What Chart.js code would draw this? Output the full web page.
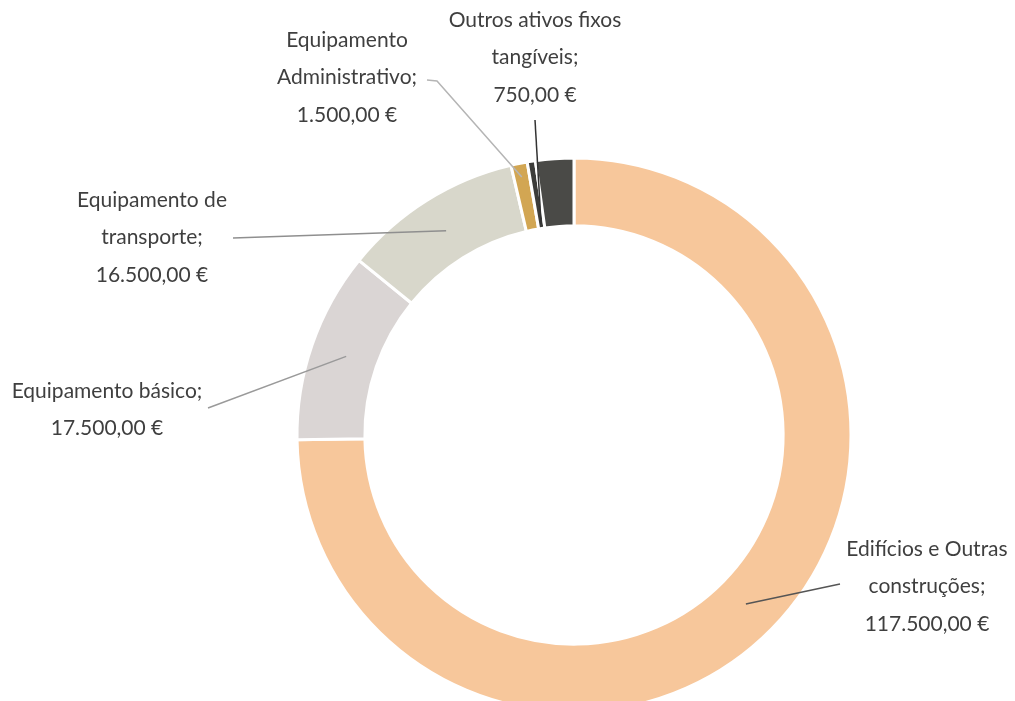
<!DOCTYPE html>
<html>
<head>
<meta charset="utf-8">
<script src="https://cdn.jsdelivr.net/npm/chart.js@4.4.0/dist/chart.umd.min.js"></script>
<style>
    html, body { margin: 0; padding: 0; background: #fff; overflow: hidden; }
    #wrap { position: absolute; left: 0; top: 0; width: 1015px; height: 870px; }
</style>
</head>
<body>
<div id="wrap"><canvas id="assetsChart" width="1015" height="870"></canvas></div>
<script>
// Chart data
const categories = [
    'Edifícios e Outras construções',
    'Equipamento básico',
    'Equipamento de transporte',
    'Equipamento Administrativo',
    'Outros ativos fixos tangíveis',
    ''
];
const values = [117500, 17500, 16500, 1500, 750, 3500];
const valueLabels = ['117.500,00 €', '17.500,00 €', '16.500,00 €', '1.500,00 €', '750,00 €', ''];

const colors = ['#F7C79B', '#DAD5D4', '#D8D7CB', '#D2A653', '#3C3C3A', '#4A4A47'];

// Label text blocks (lines) and where they sit
const labelLines = [
    ['Edifícios e Outras', 'construções;', '117.500,00 €'],
    ['Equipamento básico;', '17.500,00 €'],
    ['Equipamento de', 'transporte;', '16.500,00 €'],
    ['Equipamento', 'Administrativo;', '1.500,00 €'],
    ['Outros ativos fixos', 'tangíveis;', '750,00 €'],
    []
];
const labelPos = [
    { x: 927, y: 549, lx: 840, ly: 584, r: 0.87, color: '#555' },
    { x: 107, y: 391, lx: 208, ly: 408, r: 0.87, color: '#9a9a9a' },
    { x: 152, y: 200, lx: 233, ly: 238, r: 0.87, color: '#8f8f8f' },
    { x: 347, y: 40, lx: 437, ly: 81, r: 0.95, color: '#b5b5b5', hook: 427 },
    { x: 535, y: 20, lx: 535, ly: 120, r: 0.77, color: '#333' },
    null
];

const labelPlugin = {
    id: 'sliceLabels',
    afterDraw(chart) {
        const c = chart.ctx;
        const arcs = chart.getDatasetMeta(0).data;
        c.save();
        c.font = '21px Lato';
        c.textAlign = 'center';
        c.textBaseline = 'middle';
        arcs.forEach((arc, i) => {
            const p = labelPos[i];
            if (!p) return;
            const { x, y, startAngle, endAngle, outerRadius } = arc.getProps(['x', 'y', 'startAngle', 'endAngle', 'outerRadius'], true);
            const mid = (startAngle + endAngle) / 2;
            const ax = x + Math.cos(mid) * outerRadius * p.r;
            const ay = y + Math.sin(mid) * outerRadius * p.r;
            c.strokeStyle = p.color;
            c.lineWidth = 1.5;
            c.beginPath();
            c.moveTo(ax, ay);
            c.lineTo(p.lx, p.ly);
            if (p.hook) c.lineTo(p.hook, p.ly - 1);
            c.stroke();

            c.fillStyle = '#3f3f3f';
            labelLines[i].forEach((line, k) => {
                c.fillText(line, p.x, p.y + k * 37.5);
            });
        });
        c.restore();
    }
};

new Chart(document.getElementById('assetsChart'), {
    type: 'doughnut',
    data: {
        labels: categories,
        datasets: [{
            data: values,
            backgroundColor: colors,
            borderColor: '#ffffff',
            borderWidth: 3,
            hoverOffset: 0
        }]
    },
    options: {
        responsive: false,
        animation: false,
        radius: 277,
        cutout: '75.5%',
        layout: { padding: { left: 133, right: 0, top: 0, bottom: 0 } },
        plugins: {
            legend: { display: false },
            tooltip: { enabled: false }
        }
    },
    plugins: [labelPlugin]
});
</script>
</body>
</html>
